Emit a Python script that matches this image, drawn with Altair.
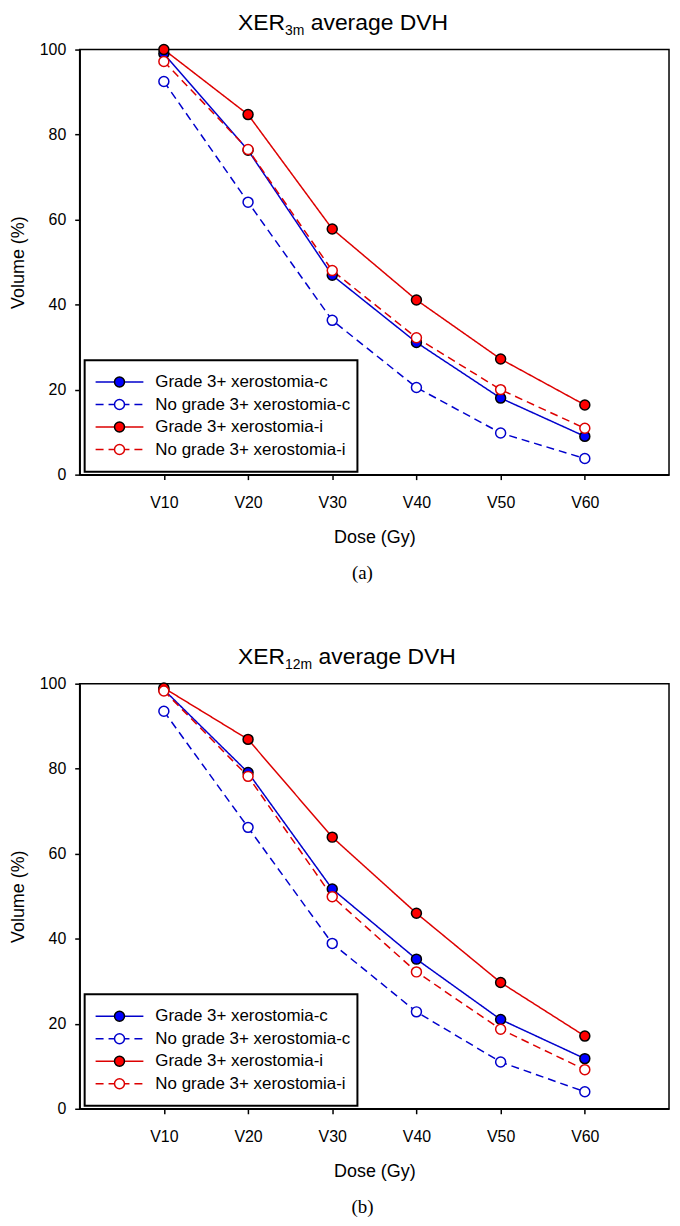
import altair as alt
import pandas as pd

# ---------------- data ----------------
dose_labels = ["V10", "V20", "V30", "V40", "V50", "V60"]
series_names = [
    "Grade 3+ xerostomia-c",
    "No grade 3+ xerostomia-c",
    "Grade 3+ xerostomia-i",
    "No grade 3+ xerostomia-i",
]

# (a) XER 3m
xer3_grade_c = [99.0, 76.3, 46.9, 31.1, 18.0, 9.0]
xer3_nograde_c = [92.5, 64.1, 36.3, 20.5, 9.8, 3.8]
xer3_grade_i = [100.0, 84.7, 57.8, 41.1, 27.2, 16.4]
xer3_nograde_i = [97.2, 76.5, 48.0, 32.2, 20.0, 10.9]

# (b) XER 12m
xer12_grade_c = [98.6, 79.1, 51.7, 35.2, 21.0, 11.8]
xer12_nograde_c = [93.5, 66.2, 38.9, 22.8, 11.0, 4.0]
xer12_grade_i = [99.0, 86.9, 63.9, 46.0, 29.7, 17.1]
xer12_nograde_i = [98.3, 78.2, 49.9, 32.2, 18.7, 9.2]

y_ticks = [0, 20, 40, 60, 80, 100]

# ---------------- styling ----------------
FONT = "Liberation Sans, Arial, sans-serif"
SERIF = "Liberation Serif, Times New Roman, serif"
line_colors = ["#0000cc", "#0000cc", "#dd0000", "#dd0000"]
marker_fills = ["#0000ff", "#ffffff", "#ff0000", "#ffffff"]
marker_strokes = ["#000000", "#0000cc", "#000000", "#dd0000"]
dashes = [[1, 0], [8, 5], [1, 0], [8, 5]]

W, H = 592, 427


def one_row():
    return pd.DataFrame({"k": [0]})


def panel(vals, sub, caption):
    rows = []
    for s, arr in zip(series_names, vals):
        for d, v in zip(dose_labels, arr):
            rows.append({"series": s, "dose": d, "volume": v})
    df = pd.DataFrame(rows)

    x = alt.X(
        "dose:O",
        sort=dose_labels,
        scale=alt.Scale(type="point", padding=1),
        axis=alt.Axis(title="Dose (Gy)", labelAngle=0, labelPadding=15, titlePadding=18),
    )
    y = alt.Y(
        "volume:Q",
        scale=alt.Scale(domain=[0, 100], nice=False, zero=False),
        axis=alt.Axis(values=y_ticks, title="Volume (%)", labelPadding=9, titlePadding=12),
    )
    color = alt.Color("series:N", scale=alt.Scale(domain=series_names, range=line_colors), legend=None)
    dash = alt.StrokeDash("series:N", scale=alt.Scale(domain=series_names, range=dashes), legend=None)
    fill = alt.Fill("series:N", scale=alt.Scale(domain=series_names, range=marker_fills), legend=None)
    stroke = alt.Stroke("series:N", scale=alt.Scale(domain=series_names, range=marker_strokes), legend=None)

    lines = alt.Chart(df).mark_line(strokeWidth=1.5).encode(x=x, y=y, color=color, strokeDash=dash)
    points = alt.Chart(df).mark_circle(size=100, strokeWidth=1.5, opacity=1).encode(
        x=x, y=y, fill=fill, stroke=stroke
    )
    main = alt.layer(lines, points)

    # legend drawn by hand
    leg = pd.DataFrame({"series": series_names, "row": list(range(len(series_names)))})
    lbase = alt.Chart(leg).transform_calculate(ly="334 + datum.row * 22.6")
    ly = alt.Y("ly:Q", scale=None, axis=None)
    box = alt.Chart(one_row()).mark_rect(fill="white", stroke="black", strokeWidth=2).encode(
        x=alt.value(5), x2=alt.value(279), y=alt.value(312), y2=alt.value(424)
    )
    lrules = lbase.mark_rule(strokeWidth=1.5).encode(
        x=alt.value(16), x2=alt.value(64), y=ly, color=color, strokeDash=dash
    )
    lpts = lbase.mark_circle(size=100, strokeWidth=1.5, opacity=1).encode(
        x=alt.value(40), y=ly, fill=fill, stroke=stroke
    )
    ltxt = lbase.mark_text(align="left", baseline="middle", font=FONT, fontSize=17, color="black").encode(
        x=alt.value(76), y=ly, text="series:N"
    )
    legend = alt.layer(box, lrules, lpts, ltxt)

    # title with real subscript
    t0 = 159
    sub_w = {"3m": 19.4, "12m": 27.2}[sub]
    t1 = alt.Chart(one_row()).mark_text(
        text="XER", font=FONT, fontSize=23, align="left", baseline="alphabetic", color="black"
    ).encode(x=alt.value(t0), y=alt.value(-20))
    t2 = alt.Chart(one_row()).mark_text(
        text=sub, font=FONT, fontSize=14, align="left", baseline="alphabetic", color="black"
    ).encode(x=alt.value(t0 + 47.3), y=alt.value(-15))
    t3 = alt.Chart(one_row()).mark_text(
        text="average DVH", font=FONT, fontSize=23, align="left", baseline="alphabetic", color="black"
    ).encode(x=alt.value(t0 + 47.3 + sub_w + 6.4), y=alt.value(-20))
    cap = alt.Chart(one_row()).mark_text(
        text=caption, font=SERIF, fontSize=19, align="center", baseline="middle", color="black"
    ).encode(x=alt.value(284), y=alt.value(526))

    return (
        alt.layer(main, legend, t1, t2, t3, cap)
        .resolve_scale(x="independent", y="independent")
        .properties(width=W, height=H)
    )


pa = panel([xer3_grade_c, xer3_nograde_c, xer3_grade_i, xer3_nograde_i], "3m", "(a)")
pb = panel([xer12_grade_c, xer12_nograde_c, xer12_grade_i, xer12_nograde_i], "12m", "(b)")

chart = (
    alt.vconcat(pa, pb, spacing=61)
    .properties(padding={"left": 0, "top": 0, "right": 2, "bottom": 2})
    .configure_view(stroke="black", strokeWidth=1.5)
    .configure_axis(
        labelFont=FONT,
        labelFontSize=16,
        labelColor="black",
        titleFont=FONT,
        titleFontSize=18,
        titleFontWeight="normal",
        titleColor="black",
        domainColor="black",
        domainWidth=1.5,
        tickColor="black",
        tickWidth=1.5,
        tickSize=5,
        grid=False,
    )
)

chart.save("out.html", embed_options={"renderer": "svg", "actions": False})
